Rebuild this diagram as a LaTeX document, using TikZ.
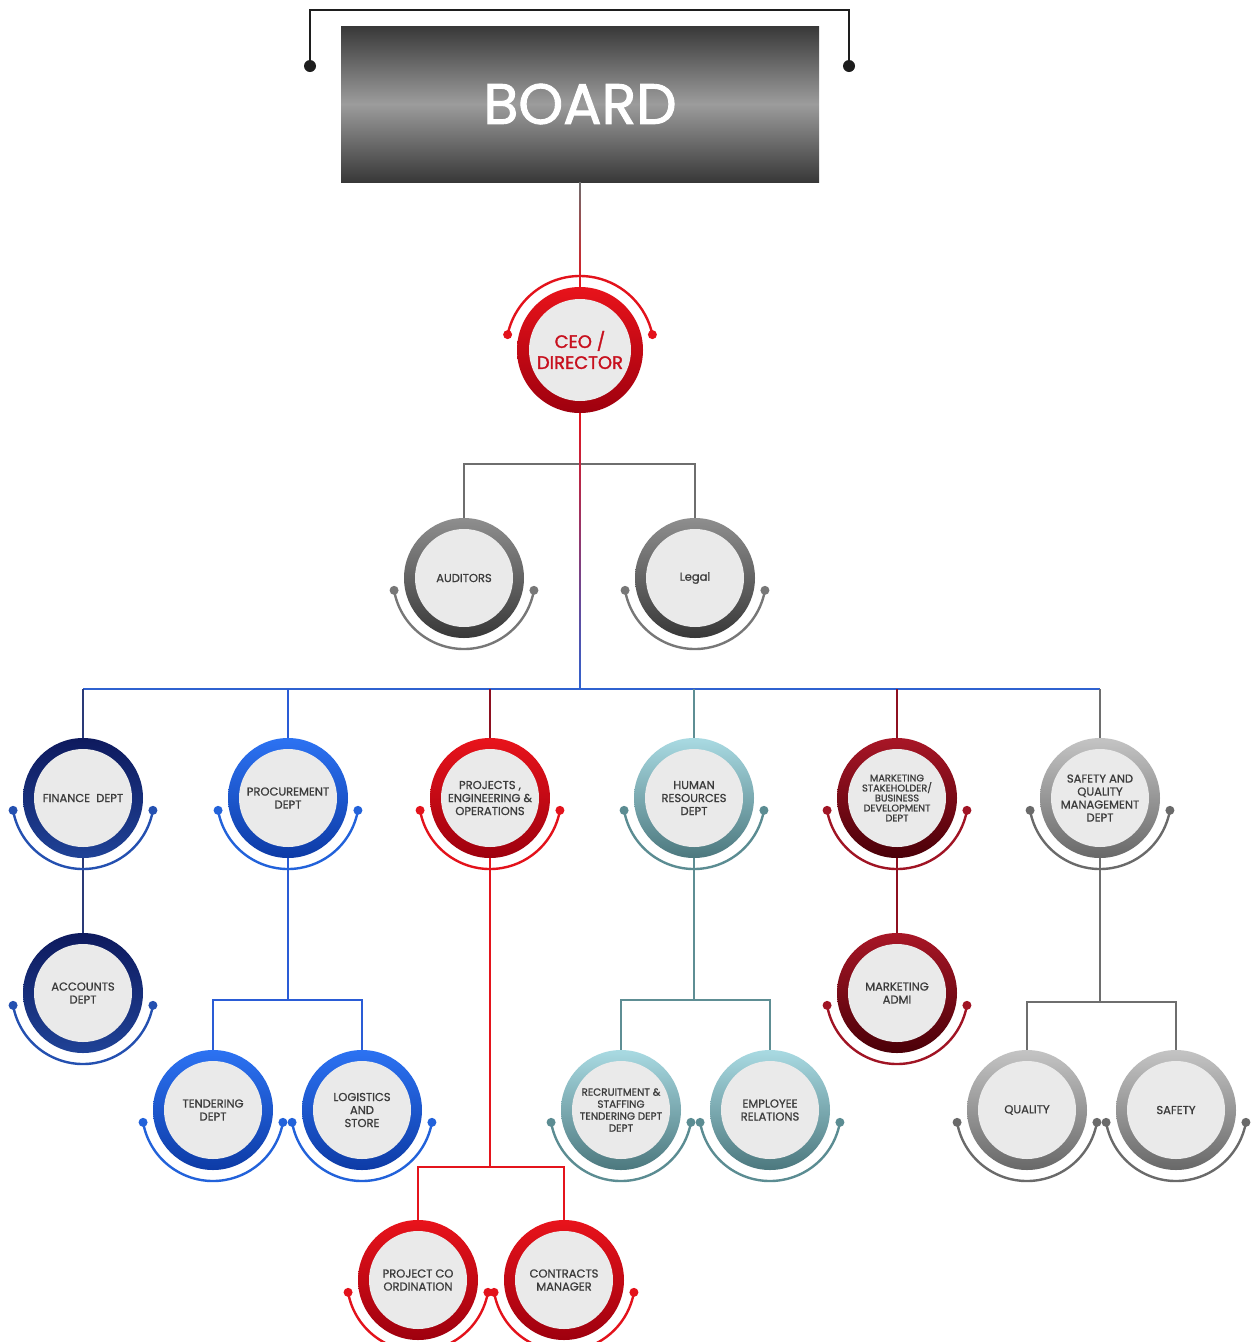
\documentclass[tikz,border=0pt]{standalone}
\usepackage{fontspec}
\usepackage{tikz}
\newfontfamily\orgfont{Poppins}[FakeBold=0.9]
\newfontfamily\headfont{Poppins}[FakeBold=1.6]

\definecolor{navytop}{HTML}{0E1A5E}
\definecolor{navybot}{HTML}{1F4296}
\definecolor{navyarc}{HTML}{2450B0}
\definecolor{bluetop}{HTML}{2C72F2}
\definecolor{bluebot}{HTML}{0D3BA6}
\definecolor{bluearc}{HTML}{2262DA}
\definecolor{redtop}{HTML}{E8131B}
\definecolor{redbot}{HTML}{9E000E}
\definecolor{redarc}{HTML}{E3121B}
\definecolor{tealtop}{HTML}{A9DAE2}
\definecolor{tealbot}{HTML}{4C787E}
\definecolor{tealarc}{HTML}{5B8C92}
\definecolor{maroontop}{HTML}{A81626}
\definecolor{maroonbot}{HTML}{4A0008}
\definecolor{maroonarc}{HTML}{A01424}
\definecolor{greytop}{HTML}{C4C4C4}
\definecolor{greybot}{HTML}{686868}
\definecolor{greyarc}{HTML}{6A6A6A}
\definecolor{darktop}{HTML}{8E8E8E}
\definecolor{darkbot}{HTML}{383838}
\definecolor{darkarc}{HTML}{777777}
\definecolor{discgray}{HTML}{EAEAEA}
\definecolor{orgtext}{HTML}{3C3C3C}
\definecolor{ceotext}{HTML}{C8101E}
\definecolor{boardedge}{HTML}{383838}
\definecolor{boardmid}{HTML}{9C9C9C}
\definecolor{linknavy}{HTML}{2A3A78}
\definecolor{linkblue}{HTML}{2A5CD6}
\definecolor{linkred}{HTML}{E4141C}
\definecolor{linkteal}{HTML}{5E8E94}
\definecolor{linkmaroon}{HTML}{8E1020}
\definecolor{linkgray}{HTML}{6E6E6E}
\definecolor{busblue}{HTML}{2F62D0}
\definecolor{bracketblack}{HTML}{1E1E1E}

\tikzset{
  orb/.style={circle, minimum size=120pt, inner sep=0pt, align=center, text=orgtext,
    font=\orgfont\fontsize{11.5}{13}\selectfont,
    path picture={\fill[discgray] (path picture bounding box.center) circle (#1);}},
  orb/.default=49pt,
  ringnavy/.style={top color=navytop, bottom color=navybot},
  ringblue/.style={top color=bluetop, bottom color=bluebot},
  ringred/.style={top color=redtop, bottom color=redbot},
  ringteal/.style={top color=tealtop, bottom color=tealbot},
  ringmaroon/.style={top color=maroontop, bottom color=maroonbot},
  ringgrey/.style={top color=greytop, bottom color=greybot},
  ringdark/.style={top color=darktop, bottom color=darkbot},
  boardbox/.style={minimum width=478pt, minimum height=156pt, inner sep=0pt,
    top color=boardedge, bottom color=boardedge, middle color=boardmid,
    text=white, font=\headfont\fontsize{57}{57}\selectfont},
  link/.style={line width=1.5pt},
  cupline/.style={line width=2.4pt},
}

\begin{document}
\begin{tikzpicture}[x=1pt, y=-1pt]
    \useasboundingbox (0,0) rectangle (1254,1342);

    % board and bracket
    \node[boardbox] (board) at (580,104) {BOARD};
    \coordinate (bl) at (310,66);
    \coordinate (br) at (849,66);
    \draw[link, bracketblack] (bl) -- ++(0,-56) -| (br);
    \fill[bracketblack] (bl) circle (6pt) (br) circle (6pt);

    % ceo, auditors, legal
    \node[orb=51pt, ringred, minimum size=126pt, text=ceotext,
      font=\headfont\fontsize{18}{21}\selectfont] (ceo) at (580,350) {CEO /\\DIRECTOR};
    \node[orb, ringdark] (aud) at (464,578) {AUDITORS};
    \node[orb, ringdark] (legal) at (695,578) {Legal};

    % departments
    \node[orb, ringnavy] (fin) at (83,798) {FINANCE\ \ DEPT};
    \node[orb, ringblue] (proc) at (288,798) {PROCUREMENT\\DEPT};
    \node[orb, ringred] (proj) at (490,798) {PROJECTS ,\\ENGINEERING \&\\OPERATIONS};
    \node[orb, ringteal] (hr) at (694,798) {HUMAN\\RESOURCES\\DEPT};
    \node[orb, ringmaroon, font=\orgfont\fontsize{9.8}{10}\selectfont] (mkt) at (897,798) {MARKETING\\STAKEHOLDER/\\BUSINESS\\DEVELOPMENT\\DEPT};
    \node[orb, ringgrey] (sqm) at (1100,798) {SAFETY AND\\QUALITY\\MANAGEMENT\\DEPT};

    % sections
    \node[orb, ringnavy] (acc) at (83,993) {ACCOUNTS\\DEPT};
    \node[orb, ringmaroon] (madmi) at (897,993) {MARKETING\\ADMI};
    \node[orb, ringblue] (tend) at (213,1110) {TENDERING\\DEPT};
    \node[orb, ringblue] (logi) at (362,1110) {LOGISTICS\\AND\\STORE};
    \node[orb, ringteal, font=\orgfont\fontsize{10.4}{12}\selectfont] (recr) at (621,1110) {RECRUITMENT \&\\STAFFING\\TENDERING DEPT\\DEPT};
    \node[orb, ringteal] (empl) at (770,1110) {EMPLOYEE\\RELATIONS};
    \node[orb, ringgrey] (qual) at (1027,1110) {QUALITY};
    \node[orb, ringgrey] (safe) at (1176,1110) {SAFETY};
    \node[orb, ringred] (pco) at (418,1280) {PROJECT CO\\ORDINATION};
    \node[orb, ringred] (cont) at (564,1280) {CONTRACTS\\MANAGER};

    % main spine
    \coordinate (audfork) at (580,464);
    \coordinate (bus) at (580,689);
    \shade[top color=linkgray, bottom color=linkred] ([xshift=-0.8pt]board.south) rectangle ([xshift=0.8pt]ceo.north);
    \draw[link, linkgray] (aud.north) |- (audfork) -| (legal.north);
    \shade[top color=linkred, bottom color=busblue] ([xshift=-0.8pt]ceo.south) rectangle ([xshift=0.8pt]bus);
    \draw[link, busblue] (fin.north |- bus) -- (sqm.north |- bus);
    \foreach \n/\c in {fin/linknavy, proc/linkblue, proj/linkmaroon, hr/linkteal, mkt/linkmaroon, sqm/linkgray}
        \draw[link, \c] (\n.north |- bus) -- (\n.north);

    % branches
    \coordinate (procfork) at (288,1000);
    \coordinate (projfork) at (490,1167);
    \coordinate (hrfork) at (694,1000);
    \coordinate (sqmfork) at (1100,1002);
    \draw[link, linknavy] (fin.south) -- (acc.north);
    \draw[link, linkmaroon] (mkt.south) -- (madmi.north);
    \draw[link, linkblue] (proc.south) -- (procfork);
    \draw[link, linkblue] (tend.north) |- (procfork) -| (logi.north);
    \draw[link, linkred] (proj.south) -- (projfork);
    \draw[link, linkred] (pco.north) |- (projfork) -| (cont.north);
    \draw[link, linkteal] (hr.south) -- (hrfork);
    \draw[link, linkteal] (recr.north) |- (hrfork) -| (empl.north);
    \draw[link, linkgray] (sqm.south) -- (sqmfork);
    \draw[link, linkgray] (qual.north) |- (sqmfork) -| (safe.north);

    % cups under the circles
    \draw[cupline, redarc] ([shift={(168:74pt)}]ceo.center) arc (168:12:74pt);
    \fill[redarc] ([shift={(168:74pt)}]ceo.center) circle (4.5pt) ([shift={(12:74pt)}]ceo.center) circle (4.5pt);
    \foreach \n/\c in {aud/darkarc, legal/darkarc, fin/navyarc, proc/bluearc, proj/redarc, hr/tealarc,
        mkt/maroonarc, sqm/greyarc, acc/navyarc, madmi/maroonarc, tend/bluearc, logi/bluearc,
        recr/tealarc, empl/tealarc, qual/greyarc, safe/greyarc, pco/redarc, cont/redarc}{
        \draw[cupline, \c] ([shift={(190:71pt)}]\n.center) arc (190:350:71pt);
        \fill[\c] ([shift={(190:71pt)}]\n.center) circle (4.5pt) ([shift={(350:71pt)}]\n.center) circle (4.5pt);
    }
\end{tikzpicture}
\end{document}
